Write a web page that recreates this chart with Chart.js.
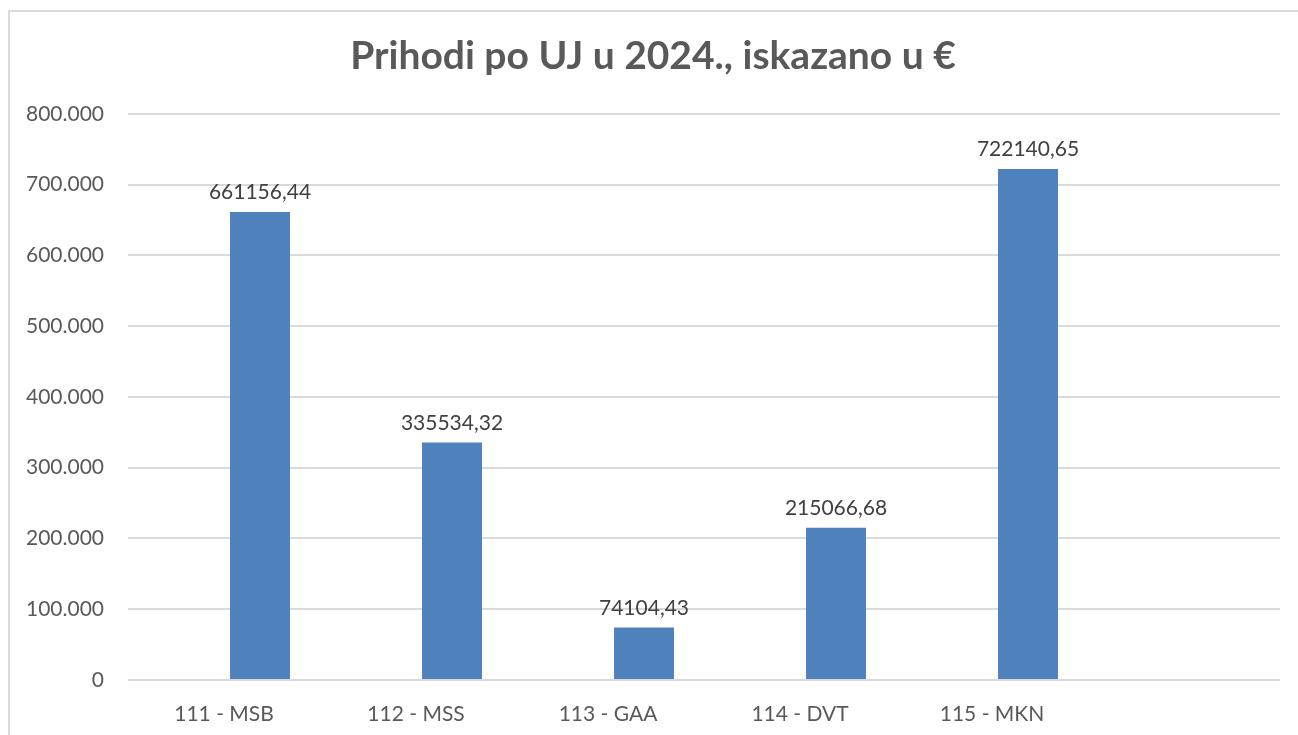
<!DOCTYPE html>
<html>
<head>
<meta charset="utf-8">
<script src="https://cdn.jsdelivr.net/npm/chart.js@4"></script>
<style>
  html, body { margin: 0; padding: 0; background: #fff; overflow: hidden; }
  #frame {
    position: absolute; left: 8px; top: 10px;
    width: 1300px; height: 740px;
    border-left: 2px solid #d9d9d9; border-top: 2px solid #d9d9d9;
  }
  #wrap { position: absolute; left: 0; top: 0; width: 1288px; height: 723px; }
</style>
</head>
<body>
<div id="frame"><div id="wrap"><canvas id="prihodiChart"></canvas></div></div>
<script>
// categories (last slot is empty, like in the original sheet)
const units = ["111 - MSB", "112 - MSS", "113 - GAA", "114 - DVT", "115 - MKN", ""];
const prihodi = [661156.44, 335534.32, 74104.43, 215066.68, 722140.65, null];
const emptySeries = [null, null, null, null, null, null];
const yTicks = [0, 100000, 200000, 300000, 400000, 500000, 600000, 700000, 800000];

function formatThousands(v) {
  return String(v).replace(/\B(?=(\d{3})+(?!\d))/g, ".");
}

// draws value above each bar, e.g. 661156,44
const valueLabels = {
  id: "valueLabels",
  afterDatasetsDraw(chart) {
    const ctx = chart.ctx;
    const meta = chart.getDatasetMeta(1);
    ctx.save();
    ctx.font = "21px Lato";
    ctx.fillStyle = "#404040";
    ctx.textAlign = "center";
    ctx.textBaseline = "bottom";
    meta.data.forEach((bar, i) => {
      const v = prihodi[i];
      if (v == null) return;
      ctx.fillText(v.toFixed(2).replace(".", ","), bar.x, bar.y - 9);
    });
    ctx.restore();
  },
};

const ctx = document.getElementById("prihodiChart").getContext("2d");
window.prihodiChart = new Chart(ctx, {
  type: "bar",
  data: {
    labels: units,
    datasets: [
      {
        label: "",
        data: emptySeries,
        backgroundColor: "rgba(0,0,0,0)",
      },
      {
        label: "Prihodi",
        data: prihodi,
        backgroundColor: "#4f81bd",
        borderWidth: 0,
      },
    ],
  },
  options: {
    responsive: true,
    maintainAspectRatio: false,
    animation: false,
    categoryPercentage: 0.75,
    barPercentage: 0.833,
    layout: { padding: { left: 16, right: 18, top: 0, bottom: 8 } },
    scales: {
      x: {
        afterFit: (axis) => {
          axis.height = 47;
        },
        grid: { display: false, drawTicks: false },
        border: { display: false },
        ticks: {
          color: "#595959",
          font: { family: "Lato", size: 21 },
          padding: 22,
          maxRotation: 0,
        },
      },
      y: {
        min: 0,
        max: 800000,
        afterBuildTicks: (axis) => {
          axis.ticks = yTicks.map((v) => ({ value: v }));
        },
        afterFit: (axis) => {
          axis.width = 102;
        },
        grid: { color: "#d9d9d9", lineWidth: 2, drawTicks: false },
        border: { display: false },
        ticks: {
          color: "#595959",
          font: { family: "Lato", size: 21 },
          padding: 24,
          callback: (v) => formatThousands(v),
        },
      },
    },
    plugins: {
      title: {
        display: true,
        text: "Prihodi po UJ u 2024., iskazano u €",
        color: "#595959",
        font: { family: "Lato", size: 39, weight: "bold" },
        padding: { top: 21, bottom: 34 },
      },
      legend: { display: false },
      tooltip: { enabled: false },
    },
  },
  plugins: [valueLabels],
});
</script>
</body>
</html>
